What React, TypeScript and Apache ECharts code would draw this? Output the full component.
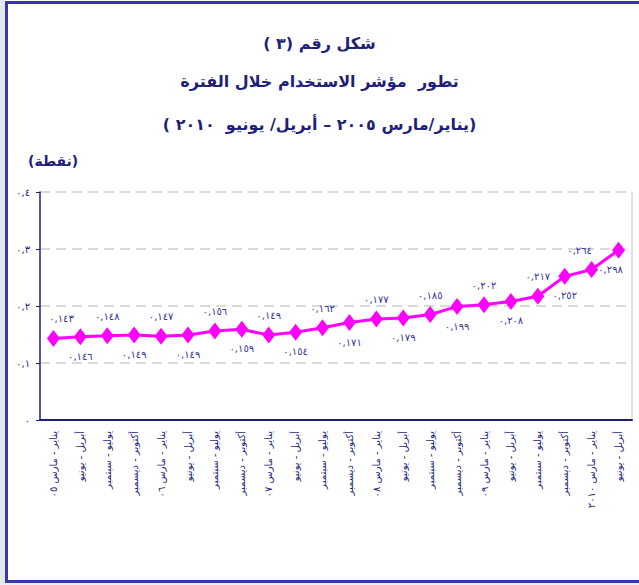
import React, { useEffect, useRef } from "react";
import * as echarts from "echarts";

const RLM = "\u200F";
const titleLines = [
  "شكل رقم (٣ )",
  "تطور  مؤشر الاستخدام خلال الفترة",
  "(يناير/مارس ٢٠٠٥ – أبريل/ يونيو  ٢٠١٠ )",
];
const unitLabel = "(نقطة)";

const categories = [
  "يناير - مارس ٠٥",
  "أبريل - يونيو",
  "يوليو - سبتمبر",
  "أكتوبر - ديسمبر",
  "يناير - مارس ٠٦",
  "أبريل - يونيو",
  "يوليو - سبتمبر",
  "أكتوبر - ديسمبر",
  "يناير - مارس ٠٧",
  "أبريل - يونيو",
  "يوليو - سبتمبر",
  "أكتوبر - ديسمبر",
  "يناير - مارس ٠٨",
  "أبريل - يونيو",
  "يوليو - سبتمبر",
  "أكتوبر - ديسمبر",
  "يناير - مارس ٠٩",
  "أبريل - يونيو",
  "يوليو - سبتمبر",
  "أكتوبر - ديسمبر",
  "يناير - مارس ٢٠١٠",
  "أبريل - يونيو",
];

const values = [
  0.143, 0.146, 0.148, 0.149, 0.147, 0.149, 0.156, 0.159, 0.149, 0.154, 0.162,
  0.171, 0.177, 0.179, 0.185, 0.199, 0.202, 0.208, 0.217, 0.252, 0.264, 0.298,
];

const yMin = 0;
const yMax = 0.4;
const yInterval = 0.1;

const AR_DIGITS = "٠١٢٣٤٥٦٧٨٩";
const toArabic = (s: string) =>
  s.replace(/[0-9]/g, (d) => AR_DIGITS[+d]).replace(".", ",");

const NAVY = "#1f1f7a";
const FONT = "DejaVu Sans";

const labelOffsetX = (i: number, n: number) => {
  if (i === 0) return 8;
  if (i === n - 1) return -8;
  if (i === n - 2) return -12;
  return 0;
};

export default function App() {
  const ref = useRef<HTMLDivElement>(null);

  useEffect(() => {
    if (!ref.current) return;
    const chart = echarts.init(ref.current, undefined, { renderer: "svg" });
    const titleTops = [30, 68, 111];
    chart.setOption({
      animation: false,
      backgroundColor: "transparent",
      title: titleLines.map((t, i) => ({
        text: RLM + t + RLM,
        left: "center",
        top: titleTops[i],
        textStyle: {
          fontFamily: FONT,
          fontSize: 16,
          fontWeight: "bold",
          color: NAVY,
        },
      })),
      graphic: [
        {
          type: "text",
          left: 28,
          top: 154,
          style: {
            text: RLM + unitLabel + RLM,
            font: `bold 14px "${FONT}"`,
            fill: NAVY,
          },
        },
        {
          type: "line",
          shape: { x1: 632, y1: 192, x2: 632, y2: 420 },
          style: { stroke: "#d8d8d8", lineWidth: 1.5 },
          silent: true,
        },
      ],
      grid: { left: 40, right: 7, top: 192, bottom: 165 },
      xAxis: {
        type: "category",
        data: categories,
        boundaryGap: true,
        axisLine: { lineStyle: { color: NAVY, width: 2 } },
        axisTick: { interval: 0, length: 5, lineStyle: { color: NAVY, width: 1.5 } },
        axisLabel: {
          interval: 0,
          rotate: 90,
          margin: 11,
          fontFamily: FONT,
          fontSize: 10,
          color: NAVY,
          formatter: (v: string) => RLM + v + RLM,
        },
      },
      yAxis: {
        type: "value",
        min: yMin,
        max: yMax,
        interval: yInterval,
        axisLine: { show: true, lineStyle: { color: NAVY, width: 1.5 } },
        axisTick: { show: true, length: 4, lineStyle: { color: NAVY } },
        axisLabel: {
          fontFamily: FONT,
          fontSize: 10,
          color: NAVY,
          margin: 10,
          formatter: (v: number) => (v === 0 ? "٠" : toArabic(String(+v.toFixed(1)))),
        },
        splitLine: {
          show: true,
          lineStyle: { color: "#d9d9d9", width: 2, type: [10, 6] },
        },
      },
      series: [
        {
          type: "line",
          data: values.map((v, i) => ({
            value: v,
            label: {
              position: i % 2 === 0 ? "top" : "bottom",
              offset: [labelOffsetX(i, values.length), 0],
            },
          })),
          symbol: "diamond",
          symbolSize: [13, 17],
          lineStyle: { color: "#ff00ff", width: 3 },
          itemStyle: { color: "#ff00ff" },
          label: {
            show: true,
            fontFamily: FONT,
            fontSize: 10,
            color: "#33339a",
            distance: 6,
            formatter: (p: any) => toArabic(Number(p.value).toFixed(3)),
          },
        },
      ],
    });
    return () => chart.dispose();
  }, []);

  return (
    <div
      style={{
        position: "fixed",
        left: 0,
        top: 0,
        width: 639,
        height: 585,
        overflow: "hidden",
        background: "#ffffff",
      }}
    >
      <div style={{ position: "absolute", left: 0, top: 0, width: 5, height: 585, background: "#e4e6f0" }} />
      <div style={{ position: "absolute", left: 0, top: 583, width: 639, height: 2, background: "#eceef6" }} />
      <div
        style={{
          position: "absolute",
          left: 5,
          top: 1,
          width: 700,
          height: 576,
          border: "3px solid #3737a6",
        }}
      />
      <div ref={ref} style={{ position: "absolute", left: 0, top: 0, width: 639, height: 585 }} />
    </div>
  );
}
